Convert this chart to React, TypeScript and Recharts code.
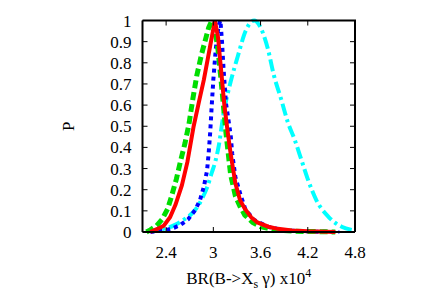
import React from 'react';
import { LineChart, Line, XAxis, YAxis } from 'recharts';

const xTicks = [2.4, 3, 3.6, 4.2, 4.8];
const yTicks = [0, 0.1, 0.2, 0.3, 0.4, 0.5, 0.6, 0.7, 0.8, 0.9, 1];
const xDomain = [2.1, 4.8];
const yDomain = [0, 1];

const redSeries = [
  { x: 2.2, p: 0 }, { x: 2.26, p: 0.01 }, { x: 2.32, p: 0.02 }, { x: 2.37, p: 0.03 },
  { x: 2.45, p: 0.07 }, { x: 2.52, p: 0.13 }, { x: 2.6, p: 0.22 }, { x: 2.67, p: 0.33 },
  { x: 2.75, p: 0.5 }, { x: 2.82, p: 0.62 }, { x: 2.88, p: 0.72 }, { x: 2.95, p: 0.86 },
  { x: 2.99, p: 0.94 }, { x: 3.02, p: 1.0 }, { x: 3.06, p: 0.92 }, { x: 3.1, p: 0.76 },
  { x: 3.14, p: 0.6 }, { x: 3.18, p: 0.48 }, { x: 3.22, p: 0.37 }, { x: 3.28, p: 0.23 },
  { x: 3.34, p: 0.15 }, { x: 3.4, p: 0.11 }, { x: 3.48, p: 0.07 }, { x: 3.56, p: 0.045 },
  { x: 3.7, p: 0.025 }, { x: 3.82, p: 0.015 }, { x: 4.0, p: 0.007 }, { x: 4.2, p: 0.003 },
  { x: 4.55, p: 0 },
];

const greenSeries = [
  { x: 2.15, p: 0 }, { x: 2.2, p: 0.01 }, { x: 2.28, p: 0.03 }, { x: 2.35, p: 0.06 },
  { x: 2.42, p: 0.11 }, { x: 2.47, p: 0.17 }, { x: 2.53, p: 0.25 }, { x: 2.58, p: 0.33 },
  { x: 2.64, p: 0.42 }, { x: 2.69, p: 0.51 }, { x: 2.74, p: 0.63 }, { x: 2.79, p: 0.74 },
  { x: 2.85, p: 0.84 }, { x: 2.9, p: 0.91 }, { x: 2.94, p: 0.965 }, { x: 2.98, p: 1.0 },
  { x: 3.02, p: 0.96 }, { x: 3.06, p: 0.86 }, { x: 3.1, p: 0.71 }, { x: 3.16, p: 0.47 },
  { x: 3.22, p: 0.27 }, { x: 3.28, p: 0.17 }, { x: 3.34, p: 0.12 }, { x: 3.4, p: 0.08 },
  { x: 3.5, p: 0.045 }, { x: 3.6, p: 0.025 }, { x: 3.8, p: 0.01 }, { x: 4.0, p: 0.004 },
  { x: 4.55, p: 0 },
];

const blueSeries = [
  { x: 2.2, p: 0 }, { x: 2.3, p: 0.004 }, { x: 2.41, p: 0.01 }, { x: 2.5, p: 0.02 },
  { x: 2.58, p: 0.033 }, { x: 2.68, p: 0.06 }, { x: 2.77, p: 0.104 }, { x: 2.83, p: 0.15 },
  { x: 2.88, p: 0.215 }, { x: 2.92, p: 0.29 }, { x: 2.94, p: 0.37 }, { x: 2.96, p: 0.47 },
  { x: 2.98, p: 0.6 }, { x: 3.0, p: 0.72 }, { x: 3.03, p: 0.86 }, { x: 3.05, p: 0.93 },
  { x: 3.07, p: 0.98 }, { x: 3.09, p: 1.0 }, { x: 3.11, p: 0.9 }, { x: 3.13, p: 0.77 },
  { x: 3.16, p: 0.61 }, { x: 3.2, p: 0.51 }, { x: 3.22, p: 0.46 }, { x: 3.24, p: 0.37 },
  { x: 3.28, p: 0.26 }, { x: 3.35, p: 0.17 }, { x: 3.41, p: 0.104 }, { x: 3.52, p: 0.057 },
  { x: 3.69, p: 0.025 }, { x: 3.9, p: 0.008 }, { x: 4.2, p: 0.002 }, { x: 4.6, p: 0 },
];

const cyanSeries = [
  { x: 2.15, p: 0.005 }, { x: 2.3, p: 0.01 }, { x: 2.41, p: 0.018 }, { x: 2.52, p: 0.035 },
  { x: 2.62, p: 0.057 }, { x: 2.72, p: 0.085 }, { x: 2.8, p: 0.12 }, { x: 2.86, p: 0.16 },
  { x: 2.92, p: 0.21 }, { x: 2.98, p: 0.28 }, { x: 3.03, p: 0.34 }, { x: 3.07, p: 0.41 },
  { x: 3.13, p: 0.56 }, { x: 3.22, p: 0.71 }, { x: 3.31, p: 0.83 }, { x: 3.41, p: 0.95 },
  { x: 3.47, p: 0.99 }, { x: 3.52, p: 1.0 }, { x: 3.58, p: 0.98 }, { x: 3.69, p: 0.87 },
  { x: 3.77, p: 0.74 }, { x: 3.86, p: 0.63 }, { x: 3.95, p: 0.515 }, { x: 4.03, p: 0.44 },
  { x: 4.12, p: 0.34 }, { x: 4.2, p: 0.25 }, { x: 4.31, p: 0.15 }, { x: 4.46, p: 0.073 },
  { x: 4.63, p: 0.025 }, { x: 4.76, p: 0.01 },
];

const FONT = '"Liberation Serif", "DejaVu Serif", serif';
const FS = 17;

const W = 436;
const H = 305;
const MARGIN = { top: 20.5, right: 81, bottom: 43, left: 56.5 };
const Y_AXIS_W = 86;
const X_AXIS_H = 30;

const fmtY = (v: number) => (v === 0 ? '0' : v === 1 ? '1' : String(Number(v.toFixed(1))));
const fmtX = (v: number) => String(v);

const XLabel = (props: any) => {
  const vb = props.viewBox || {};
  const cx = vb.x + vb.width / 2;
  const y = vb.y + 52;
  return (
    <text x={cx} y={y} textAnchor="middle" fontFamily={FONT} fontSize={FS} fill="#000">
      <tspan>BR(B-&gt;X</tspan>
      <tspan dy={4} fontSize={12}>s</tspan>
      <tspan dy={-4}> γ) x10</tspan>
      <tspan dy={-7} fontSize={12}>4</tspan>
    </text>
  );
};

const YLabel = (props: any) => {
  const vb = props.viewBox || {};
  const x = vb.x + 12;
  const y = vb.y + vb.height / 2;
  return (
    <text x={x} y={y} textAnchor="middle" dominantBaseline="central" fontFamily={FONT} fontSize={FS} fill="#000" transform={`rotate(-90 ${x} ${y})`}>
      P
    </text>
  );
};

// Frame (top and right borders with inward ticks), laid over the plot area
const Frame = () => {
  const left = MARGIN.left + Y_AXIS_W;
  const right = W - MARGIN.right;
  const top = MARGIN.top;
  const bottom = H - MARGIN.bottom - X_AXIS_H;
  const pw = right - left;
  const ph = bottom - top;
  const sx = (v: number) => left + ((v - xDomain[0]) / (xDomain[1] - xDomain[0])) * pw;
  const sy = (v: number) => bottom - ((v - yDomain[0]) / (yDomain[1] - yDomain[0])) * ph;
  return (
    <svg width={W} height={H} style={{ position: 'absolute', left: 0, top: 0, pointerEvents: 'none' }}>
      <line x1={left} y1={top} x2={right + 1} y2={top} stroke="#000" strokeWidth={2} />
      <line x1={right} y1={top} x2={right} y2={bottom} stroke="#000" strokeWidth={2} />
      {xTicks.map((t) => (
        <line key={`t${t}`} x1={sx(t)} y1={top} x2={sx(t)} y2={top + 5} stroke="#000" strokeWidth={1} />
      ))}
      {yTicks.map((t) => (
        <line key={`r${t}`} x1={right} y1={sy(t)} x2={right - 5} y2={sy(t)} stroke="#000" strokeWidth={1} />
      ))}
    </svg>
  );
};

export default function App() {
  const axisLine = { stroke: '#000', strokeWidth: 2 };
  const tickLine = { stroke: '#000', strokeWidth: 1 };
  const tickStyle = { fontFamily: FONT, fontSize: FS, fill: '#000' };
  return (
    <div style={{ position: 'absolute', left: 0, top: 0, width: W, height: H, background: '#fff' }}>
      <LineChart width={W} height={H} margin={MARGIN}>
        <XAxis
          xAxisId="b"
          type="number"
          dataKey="x"
          domain={xDomain}
          ticks={xTicks}
          interval={0}
          tickFormatter={fmtX}
          allowDataOverflow
          height={X_AXIS_H}
          tickSize={-5}
          tickMargin={19}
          axisLine={axisLine}
          tickLine={tickLine}
          tick={tickStyle}
          label={<XLabel />}
        />
        <YAxis
          yAxisId="l"
          type="number"
          domain={yDomain}
          ticks={yTicks}
          interval={0}
          tickFormatter={fmtY}
          width={Y_AXIS_W}
          tickSize={-5}
          tickMargin={16}
          axisLine={axisLine}
          tickLine={tickLine}
          tick={tickStyle}
          label={<YLabel />}
        />
        <Line xAxisId="b" yAxisId="l" data={cyanSeries} dataKey="p" type="monotone" stroke="#00ffff" strokeWidth={4} strokeDasharray="12 4 3 4" dot={false} isAnimationActive={false} />
        <Line xAxisId="b" yAxisId="l" data={blueSeries} dataKey="p" type="linear" stroke="#0000ff" strokeWidth={4} strokeDasharray="4 4" dot={false} isAnimationActive={false} />
        <Line xAxisId="b" yAxisId="l" data={greenSeries} dataKey="p" type="linear" stroke="#00dd00" strokeWidth={5} strokeDasharray="8 4" dot={false} isAnimationActive={false} />
        <Line xAxisId="b" yAxisId="l" data={redSeries} dataKey="p" type="linear" stroke="#ff0000" strokeWidth={4} dot={false} isAnimationActive={false} />
      </LineChart>
      <Frame />
    </div>
  );
}
